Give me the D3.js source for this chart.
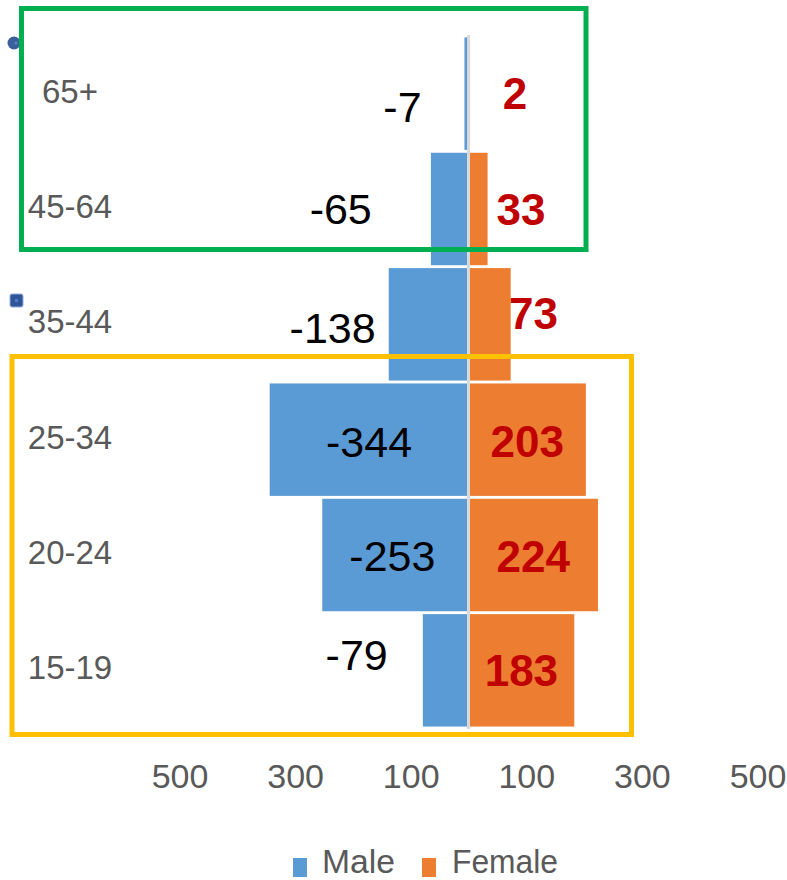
<!DOCTYPE html>
<html>
<head>
<meta charset="utf-8">
<script src="https://cdn.jsdelivr.net/npm/d3@7/dist/d3.min.js"></script>
<style>
  html, body { margin: 0; padding: 0; background: #fff; }
  svg { display: block; }
</style>
</head>
<body>
<div id="chart"></div>
<script>
// ---- data ----
const categories = ["65+", "45-64", "35-44", "25-34", "20-24", "15-19"];
const maleValues = [-7, -65, -138, -344, -253, -79];
const femaleValues = [2, 33, 73, 203, 224, 183];
const tickValues = [-500, -300, -100, 100, 300, 500];
const seriesNames = ["Male", "Female"];

// ---- layout (label nudges, px, relative to bar centre) ----
const maleNudge = [[-64, 13], [-109, 0], [-96, 3], [0, 2], [-3, 1], [-89, -16]];
const femaleNudge = [[46, 0], [43, 0], [44, -11], [0, 2], [0, 1], [0, 0]];

const W = 787, H = 880;
const colors = { Male: "#5B9BD5", Female: "#ED7D31" };

const svg = d3.select("#chart").append("svg").attr("width", W).attr("height", H);

const x = d3.scaleLinear().domain([-500, 500]).range([179.5, 757.5]);
const y = d3.scaleBand().domain(categories).range([36, 728]).paddingInner(0.025).paddingOuter(0.0125);

const rows = categories.map((c, i) => ({ cat: c, m: maleValues[i], f: femaleValues[i], i }));

// bars
svg.append("g").selectAll("rect.male").data(rows).join("rect")
  .attr("x", d => x(d.m)).attr("width", d => x(0) - x(d.m))
  .attr("y", d => y(d.cat)).attr("height", y.bandwidth())
  .attr("fill", colors.Male);
svg.append("g").selectAll("rect.female").data(rows).join("rect")
  .attr("x", x(0)).attr("width", d => x(d.f) - x(0))
  .attr("y", d => y(d.cat)).attr("height", y.bandwidth())
  .attr("fill", colors.Female);

// centre axis line
svg.append("line")
  .attr("x1", x(0)).attr("x2", x(0))
  .attr("y1", 35).attr("y2", 729)
  .attr("stroke", "#D9D9D9").attr("stroke-width", 3);

// category labels
svg.append("g").selectAll("text").data(rows).join("text")
  .attr("x", 70)
  .attr("y", d => y(d.cat) + y.bandwidth() / 2 - 3 + 12)
  .attr("text-anchor", "middle")
  .attr("font-family", "Liberation Sans, Arial, sans-serif")
  .attr("font-size", 33)
  .attr("fill", "#595959")
  .text(d => d.cat);

// data labels
const lblSize = 43;
svg.append("g").selectAll("text").data(rows).join("text")
  .attr("x", d => (x(d.m) + x(0)) / 2 + maleNudge[d.i][0])
  .attr("y", d => y(d.cat) + y.bandwidth() / 2 + maleNudge[d.i][1] + lblSize * 0.358)
  .attr("text-anchor", "middle")
  .attr("font-family", "Liberation Sans, Arial, sans-serif")
  .attr("font-size", lblSize)
  .attr("fill", "#000")
  .text(d => d.m);
svg.append("g").selectAll("text").data(rows).join("text")
  .attr("x", d => (x(d.f) + x(0)) / 2 + femaleNudge[d.i][0])
  .attr("y", d => y(d.cat) + y.bandwidth() / 2 + femaleNudge[d.i][1] + 44 * 0.358)
  .attr("text-anchor", "middle")
  .attr("font-family", "Liberation Sans, Arial, sans-serif")
  .attr("font-weight", "bold")
  .attr("font-size", 44)
  .attr("fill", "#C00000")
  .text(d => d.f);

// x axis
const axis = d3.axisBottom(x).tickValues(tickValues).tickFormat(d => Math.abs(d)).tickSize(0).tickPadding(0);
const ax = svg.append("g").attr("transform", "translate(0,763)").call(axis);
ax.select(".domain").remove();
ax.selectAll("text")
  .attr("dy", null).attr("y", 25)
  .attr("font-family", "Liberation Sans, Arial, sans-serif")
  .attr("font-size", 34)
  .attr("fill", "#595959");

// legend
const legendX = [293, 422];
const legendTextX = [322, 452];
const legendTextLen = [73, 106];
seriesNames.forEach((s, i) => {
  svg.append("rect").attr("x", legendX[i]).attr("y", 858).attr("width", 14).attr("height", 19).attr("fill", colors[s]);
  svg.append("text").attr("x", legendTextX[i]).attr("y", 873)
    .attr("font-family", "Liberation Sans, Arial, sans-serif")
    .attr("font-size", 33)
    .attr("textLength", legendTextLen[i]).attr("lengthAdjust", "spacingAndGlyphs")
    .attr("fill", "#595959").text(s);
});

// selection handles
svg.append("circle").attr("cx", 14).attr("cy", 43).attr("r", 6.5).attr("fill", "#3A5F9B");
svg.append("circle").attr("cx", 16).attr("cy", 43).attr("r", 1.5).attr("fill", "#5B86C5");
svg.append("rect").attr("x", 10).attr("y", 294).attr("width", 13).attr("height", 13).attr("rx", 2)
  .attr("fill", "#2F5597").attr("stroke", "#8FAADC").attr("stroke-width", 1);
svg.append("rect").attr("x", 15).attr("y", 299).attr("width", 3).attr("height", 3).attr("fill", "#4A7BC8");

// highlight boxes
svg.append("rect").attr("x", 21.5).attr("y", 8.5).attr("width", 586 - 21.5).attr("height", 249.5 - 8.5)
  .attr("fill", "none").attr("stroke", "#00B050").attr("stroke-width", 5);
svg.append("rect").attr("x", 12).attr("y", 356.5).attr("width", 631.5 - 12).attr("height", 734.5 - 356.5)
  .attr("fill", "none").attr("stroke", "#FFC000").attr("stroke-width", 5);
</script>
</body>
</html>
